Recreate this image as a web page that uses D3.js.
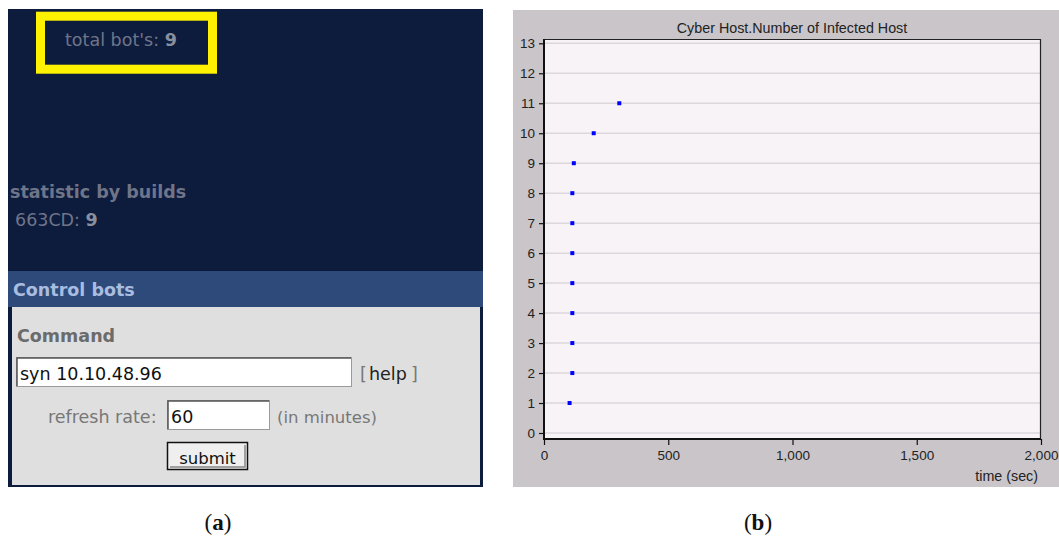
<!DOCTYPE html>
<html><head><meta charset="utf-8">
<script src="https://cdn.jsdelivr.net/npm/d3@7"></script>
<style>html,body{margin:0;padding:0;background:#fff;}svg{display:block;}</style>
</head><body>
<svg id="c" width="1059" height="541"></svg>
<script>
// ---- data ----
const timeSec = [103, 114, 114, 114, 114, 114, 114, 114, 120, 200, 303];
const infectedHosts = [1, 2, 3, 4, 5, 6, 7, 8, 9, 10, 11];
const xTickValues = [0, 500, 1000, 1500, 2000];
const yTickValues = [0,1,2,3,4,5,6,7,8,9,10,11,12,13];
const chartTitle = "Cyber Host.Number of Infected Host";
const xAxisLabel = "time (sec)";
const totalBots = 9;
const buildName = "663CD";
const buildCount = 9;

(function(){
const svg = d3.select("#c");
const uiFont = "'DejaVu Sans', Verdana, sans-serif";

// ---- panel (a): screenshot of control panel ----
const a = svg.append("g");
a.append("rect").attr("x",8).attr("y",9).attr("width",475).attr("height",478).attr("fill","#0d1c3d");
a.append("rect").attr("x",40.5).attr("y",16.2).attr("width",172).attr("height",53)
  .attr("fill","none").attr("stroke","#fff200").attr("stroke-width",9);
a.append("text").attr("x",65).attr("y",46).attr("font-family",uiFont).attr("font-size",17.5)
  .attr("fill","#6f7589").text("total bot's: ")
  .append("tspan").attr("font-weight","bold").attr("fill","#8a8f9e").text(totalBots);
a.append("text").attr("x",10).attr("y",198).attr("font-family",uiFont).attr("font-size",17.5)
  .attr("font-weight","bold").attr("fill","#6f7589").text("statistic by builds");
a.append("text").attr("x",15).attr("y",226).attr("font-family",uiFont).attr("font-size",17.5)
  .attr("fill","#6f7589").text(buildName + ": ")
  .append("tspan").attr("font-weight","bold").attr("fill","#8a8f9e").text(buildCount);
// header band
a.append("rect").attr("x",8).attr("y",271).attr("width",475).attr("height",36).attr("fill","#2e4a7a");
a.append("text").attr("x",13).attr("y",296).attr("font-family",uiFont).attr("font-size",17.5)
  .attr("font-weight","bold").attr("fill","#a9bde0").text("Control bots");
// gray body
a.append("rect").attr("x",12).attr("y",307).attr("width",468).attr("height",178).attr("fill","#dfdfdf");
a.append("text").attr("x",17).attr("y",342).attr("font-family",uiFont).attr("font-size",17.5)
  .attr("font-weight","bold").attr("fill","#6b6b6b").text("Command");
// command input
a.append("rect").attr("x",16.5).attr("y",357.5).attr("width",335).attr("height",29).attr("fill","#fff")
  .attr("stroke","#9a9a9a");
a.append("path").attr("d","M17,386 V358 H351").attr("fill","none").attr("stroke","#555").attr("stroke-width",1.5);
a.append("text").attr("x",20).attr("y",380).attr("font-family",uiFont).attr("font-size",17.5)
  .attr("fill","#111").text("syn 10.10.48.96");
const help = a.append("text").attr("y",380).attr("font-family",uiFont).attr("font-size",17.5)
  .attr("fill","#777");
help.append("tspan").attr("x",360).text("[");
help.append("tspan").attr("x",369).attr("fill","#222").text("help");
help.append("tspan").attr("x",411).text("]");
a.append("text").attr("x",48).attr("y",423).attr("font-family",uiFont).attr("font-size",17.5)
  .attr("fill","#777").text("refresh rate:");
a.append("rect").attr("x",167.5).attr("y",400.5).attr("width",102).attr("height",29).attr("fill","#fff")
  .attr("stroke","#9a9a9a");
a.append("path").attr("d","M168,429 V401 H269").attr("fill","none").attr("stroke","#555").attr("stroke-width",1.5);
a.append("text").attr("x",171).attr("y",423).attr("font-family",uiFont).attr("font-size",17.5)
  .attr("fill","#111").text("60");
a.append("text").attr("x",277).attr("y",423).attr("font-family",uiFont).attr("font-size",16.5)
  .attr("fill","#777").text("(in minutes)");
// submit button
a.append("rect").attr("x",167.5).attr("y",442.5).attr("width",80).attr("height",27).attr("fill","#efefef")
  .attr("stroke","#111").attr("stroke-width",1.5);
a.append("path").attr("d","M170,467 H245 V445").attr("fill","none").attr("stroke","#888").attr("stroke-width",1.5);
a.append("text").attr("x",207.5).attr("y",464).attr("text-anchor","middle").attr("font-family",uiFont).attr("font-size",16.5)
  .attr("fill","#111").text("submit");

// ---- panel (b): chart ----
const b = svg.append("g");
b.append("rect").attr("x",513).attr("y",10).attr("width",546).attr("height",477).attr("fill","#c9c5c9");
const x = d3.scaleLinear().domain([0,2000]).range([544,1041]);
const y = d3.scaleLinear().domain([0,13]).range([433,43.3]);
const pTop = 39, pBottom = 439, pLeft = x(0), pRight = x(2000);
b.append("rect").attr("x",pLeft).attr("y",pTop).attr("width",pRight-pLeft).attr("height",pBottom-pTop).attr("fill","#f7f3f7");
// gridlines
b.append("g").selectAll("line").data(yTickValues).join("line")
  .attr("x1",pLeft).attr("x2",pRight).attr("y1",d=>y(d)).attr("y2",d=>y(d))
  .attr("stroke","#dcd7dc").attr("stroke-width",1.5);
// frame top/right
b.append("path").attr("d",`M${pLeft},${pTop+0.5} H${pRight-0.5} V${pBottom}`).attr("fill","none").attr("stroke","#222").attr("stroke-width",1.2);
// axes
const axFont = "'Liberation Sans', Arial, sans-serif";
const gx = b.append("g").attr("transform",`translate(0,${pBottom})`)
  .call(d3.axisBottom(x).tickValues(xTickValues).tickFormat(d3.format(",")).tickSize(6).tickPadding(5));
const gy = b.append("g").attr("transform",`translate(${pLeft},0)`)
  .call(d3.axisLeft(y).tickValues(yTickValues).tickSize(5).tickPadding(4));
[gx,gy].forEach(g=>{
  g.select(".domain").remove();
  g.selectAll(".tick line").attr("stroke","#111").attr("stroke-width",1.2);
  g.selectAll(".tick text").attr("font-family",axFont).attr("font-size",13.5).attr("fill","#222");
});
b.append("line").attr("x1",pLeft).attr("x2",pLeft).attr("y1",pTop).attr("y2",pBottom+1).attr("stroke","#111").attr("stroke-width",2);
b.append("line").attr("x1",pLeft).attr("x2",pRight).attr("y1",pBottom).attr("y2",pBottom).attr("stroke","#111").attr("stroke-width",2);
// points
b.append("g").selectAll("rect").data(timeSec.map((t,i)=>[t,infectedHosts[i]])).join("rect")
  .attr("x",d=>x(d[0])-2).attr("y",d=>y(d[1])-2).attr("width",4).attr("height",4).attr("fill","#0000ff");
// title & label
b.append("text").attr("x",792).attr("y",33).attr("text-anchor","middle").attr("font-family",axFont)
  .attr("font-size",14.3).attr("fill","#222").text(chartTitle);
b.append("text").attr("x",1038).attr("y",481).attr("text-anchor","end").attr("font-family",axFont)
  .attr("font-size",14.3).attr("fill","#222").text(xAxisLabel);

// ---- captions ----
const capFont = "'Liberation Serif', 'DejaVu Serif', serif";
[["a",218],["b",758]].forEach(([l,cx])=>{
  const t = svg.append("text").attr("x",cx).attr("y",530).attr("text-anchor","middle")
    .attr("font-family",capFont).attr("font-size",23).attr("fill","#111");
  t.append("tspan").text("(");
  t.append("tspan").attr("font-weight","bold").text(l);
  t.append("tspan").text(")");
});
})();
</script>
</body></html>
